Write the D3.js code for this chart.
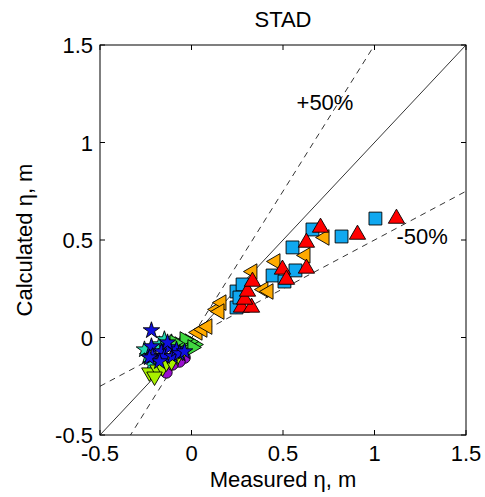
<!DOCTYPE html>
<html lang="en">
<head>
    <meta charset="UTF-8">
    <title>STAD</title>
    <style>
        body { margin: 0; background: #fff; }
        svg text { font-family: "Liberation Sans", Arial, sans-serif; fill: #000; }
    </style>
</head>
<body>
    <div id="chart"></div>
    <script src="https://d3js.org/d3.v7.min.js"></script>
    <script>
        const ticks = [-0.5, 0, 0.5, 1, 1.5]
        const tickLabels = ['-0.5', '0', '0.5', '1', '1.5']

        // [measured, calculated]
        const cyanStars = [[-0.175, -0.036], [-0.240, -0.097], [-0.219, -0.138], [-0.055, -0.021],
            [-0.109, -0.026], [-0.148, -0.010], [-0.257, -0.062]]
        const purpleCircles = [[-0.027, -0.051], [-0.038, -0.103], [-0.137, -0.179], [-0.066, -0.123],
            [-0.104, -0.138], [0, -0.036]]
        const limeDown = [[-0.230, -0.179], [-0.186, -0.164], [-0.158, -0.154], [-0.202, -0.200],
            [-0.077, -0.097], [-0.022, -0.046], [-0.137, -0.128], [-0.109, -0.123], [-0.049, -0.072]]
        const greenRight = [[0.016, -0.036], [-0.011, -0.021], [-0.066, -0.036], [-0.038, -0.010],
            [0.005, -0.051], [-0.093, -0.026]]
        const blueStars = [[-0.219, 0.036], [-0.219, -0.046], [-0.213, -0.097], [-0.164, -0.072],
            [-0.148, -0.097], [-0.120, -0.051], [-0.104, -0.097], [-0.082, -0.062], [-0.066, -0.082],
            [-0.175, -0.123], [-0.230, -0.103], [-0.038, -0.072], [-0.131, -0.026]]
        const orangeLeft = [[0.033, 0.026], [0.060, 0.041], [0.087, 0.056], [0.137, 0.144], [0.164, 0.179],
            [0.153, 0.133], [0.333, 0.338], [0.393, 0.246], [0.421, 0.236], [0.459, 0.390],
            [0.623, 0.421], [0.727, 0.513]]
        const blueSquares = [[0.246, 0.154], [0.246, 0.236], [0.279, 0.272], [0.262, 0.205],
            [0.443, 0.318], [0.508, 0.287], [0.568, 0.344], [0.552, 0.462], [0.661, 0.554],
            [0.820, 0.518], [1.005, 0.610]]
        const redUp = [[0.273, 0.154], [0.328, 0.154], [0.290, 0.195], [0.306, 0.236], [0.333, 0.287],
            [0.497, 0.349], [0.519, 0.297], [0.628, 0.354], [0.628, 0.487], [0.705, 0.564],
            [0.907, 0.528], [1.120, 0.610]]

        const width = 485
        const height = 497
        const margin = { top: 45, right: 19, bottom: 62, left: 100 }
        const fontSize = 22

        const svg = d3.select('#chart').append('svg')
            .attr('width', width)
            .attr('height', height)

        const xScale = d3.scaleLinear().domain([-0.5, 1.5]).range([margin.left, width - margin.right])
        const yScale = d3.scaleLinear().domain([-0.5, 1.5]).range([height - margin.bottom, margin.top])

        svg.append('clipPath').attr('id', 'plot-clip')
            .append('rect')
            .attr('x', xScale(-0.5)).attr('y', yScale(1.5))
            .attr('width', xScale(1.5) - xScale(-0.5))
            .attr('height', yScale(-0.5) - yScale(1.5))

        // reference lines: 1:1 and +/-50%
        const refLines = svg.append('g').attr('clip-path', 'url(#plot-clip)')
        const lineX = [-0.5, 1.5]
        const refs = [
            { k: 1, dash: null },
            { k: 1.5, dash: '6,5' },
            { k: 0.5, dash: '6,5' }
        ]
        refs.forEach(r => {
            refLines.append('line')
                .attr('x1', xScale(lineX[0])).attr('y1', yScale(r.k * lineX[0]))
                .attr('x2', xScale(lineX[1])).attr('y2', yScale(r.k * lineX[1]))
                .attr('stroke', '#000')
                .attr('stroke-width', 0.8)
                .attr('stroke-dasharray', r.dash)
        })

        // markers
        const series = [
            { data: cyanStars, type: d3.symbolStar, size: 85, rot: 0, fill: '#22d8b0' },
            { data: purpleCircles, type: d3.symbolCircle, size: 105, rot: 0, fill: '#9a10d0' },
            { data: limeDown, type: d3.symbolTriangle, size: 105, rot: 180, fill: '#a8f000' },
            { data: greenRight, type: d3.symbolTriangle, size: 105, rot: 90, fill: '#40d840' },
            { data: blueStars, type: d3.symbolStar, size: 85, rot: 0, fill: '#1010e0' },
            { data: orangeLeft, type: d3.symbolTriangle, size: 105, rot: -90, fill: '#ffaa00' },
            { data: blueSquares, type: d3.symbolSquare, size: 165, rot: 0, fill: '#10a8f0' },
            { data: redUp, type: d3.symbolTriangle, size: 115, rot: 0, fill: '#ff0000' }
        ]
        const markers = svg.append('g')
        series.forEach(s => {
            const sym = d3.symbol().type(s.type).size(s.size)
            markers.append('g').selectAll('path')
                .data(s.data)
                .join('path')
                .attr('d', sym)
                .attr('transform', d => `translate(${xScale(d[0])},${yScale(d[1])}) rotate(${s.rot})`)
                .attr('fill', s.fill)
                .attr('stroke', '#000')
                .attr('stroke-width', 0.9)
        })

        // axes box with inward ticks on all sides
        const axes = svg.append('g')
        axes.append('rect')
            .attr('x', xScale(-0.5)).attr('y', yScale(1.5))
            .attr('width', xScale(1.5) - xScale(-0.5))
            .attr('height', yScale(-0.5) - yScale(1.5))
            .attr('fill', 'none').attr('stroke', '#000').attr('stroke-width', 1)

        const tickLen = 5
        ticks.forEach((t, i) => {
            axes.append('line').attr('x1', xScale(t)).attr('x2', xScale(t))
                .attr('y1', yScale(-0.5)).attr('y2', yScale(-0.5) - tickLen).attr('stroke', '#000')
            axes.append('line').attr('x1', xScale(t)).attr('x2', xScale(t))
                .attr('y1', yScale(1.5)).attr('y2', yScale(1.5) + tickLen).attr('stroke', '#000')
            axes.append('line').attr('y1', yScale(t)).attr('y2', yScale(t))
                .attr('x1', xScale(-0.5)).attr('x2', xScale(-0.5) + tickLen).attr('stroke', '#000')
            axes.append('line').attr('y1', yScale(t)).attr('y2', yScale(t))
                .attr('x1', xScale(1.5)).attr('x2', xScale(1.5) - tickLen).attr('stroke', '#000')

            axes.append('text')
                .attr('x', xScale(t)).attr('y', yScale(-0.5) + 26)
                .attr('text-anchor', 'middle')
                .attr('font-size', fontSize)
                .text(tickLabels[i])
            axes.append('text')
                .attr('x', xScale(-0.5) - 7).attr('y', yScale(t) + 8)
                .attr('text-anchor', 'end')
                .attr('font-size', fontSize)
                .text(tickLabels[i])
        })

        // labels
        svg.append('text')
            .attr('x', (xScale(-0.5) + xScale(1.5)) / 2).attr('y', 27)
            .attr('text-anchor', 'middle').attr('font-size', fontSize)
            .text('STAD')
        svg.append('text')
            .attr('x', (xScale(-0.5) + xScale(1.5)) / 2).attr('y', 487)
            .attr('text-anchor', 'middle').attr('font-size', fontSize)
            .text('Measured η, m')
        svg.append('text')
            .attr('transform', `translate(32, ${(yScale(-0.5) + yScale(1.5)) / 2}) rotate(-90)`)
            .attr('text-anchor', 'middle').attr('font-size', fontSize)
            .text('Calculated  η, m')

        svg.append('text')
            .attr('x', xScale(0.574)).attr('y', yScale(1.169))
            .attr('font-size', fontSize)
            .text('+50%')
        svg.append('text')
            .attr('x', xScale(1.12)).attr('y', yScale(0.477))
            .attr('font-size', fontSize)
            .text('-50%')
    </script>
</body>
</html>
